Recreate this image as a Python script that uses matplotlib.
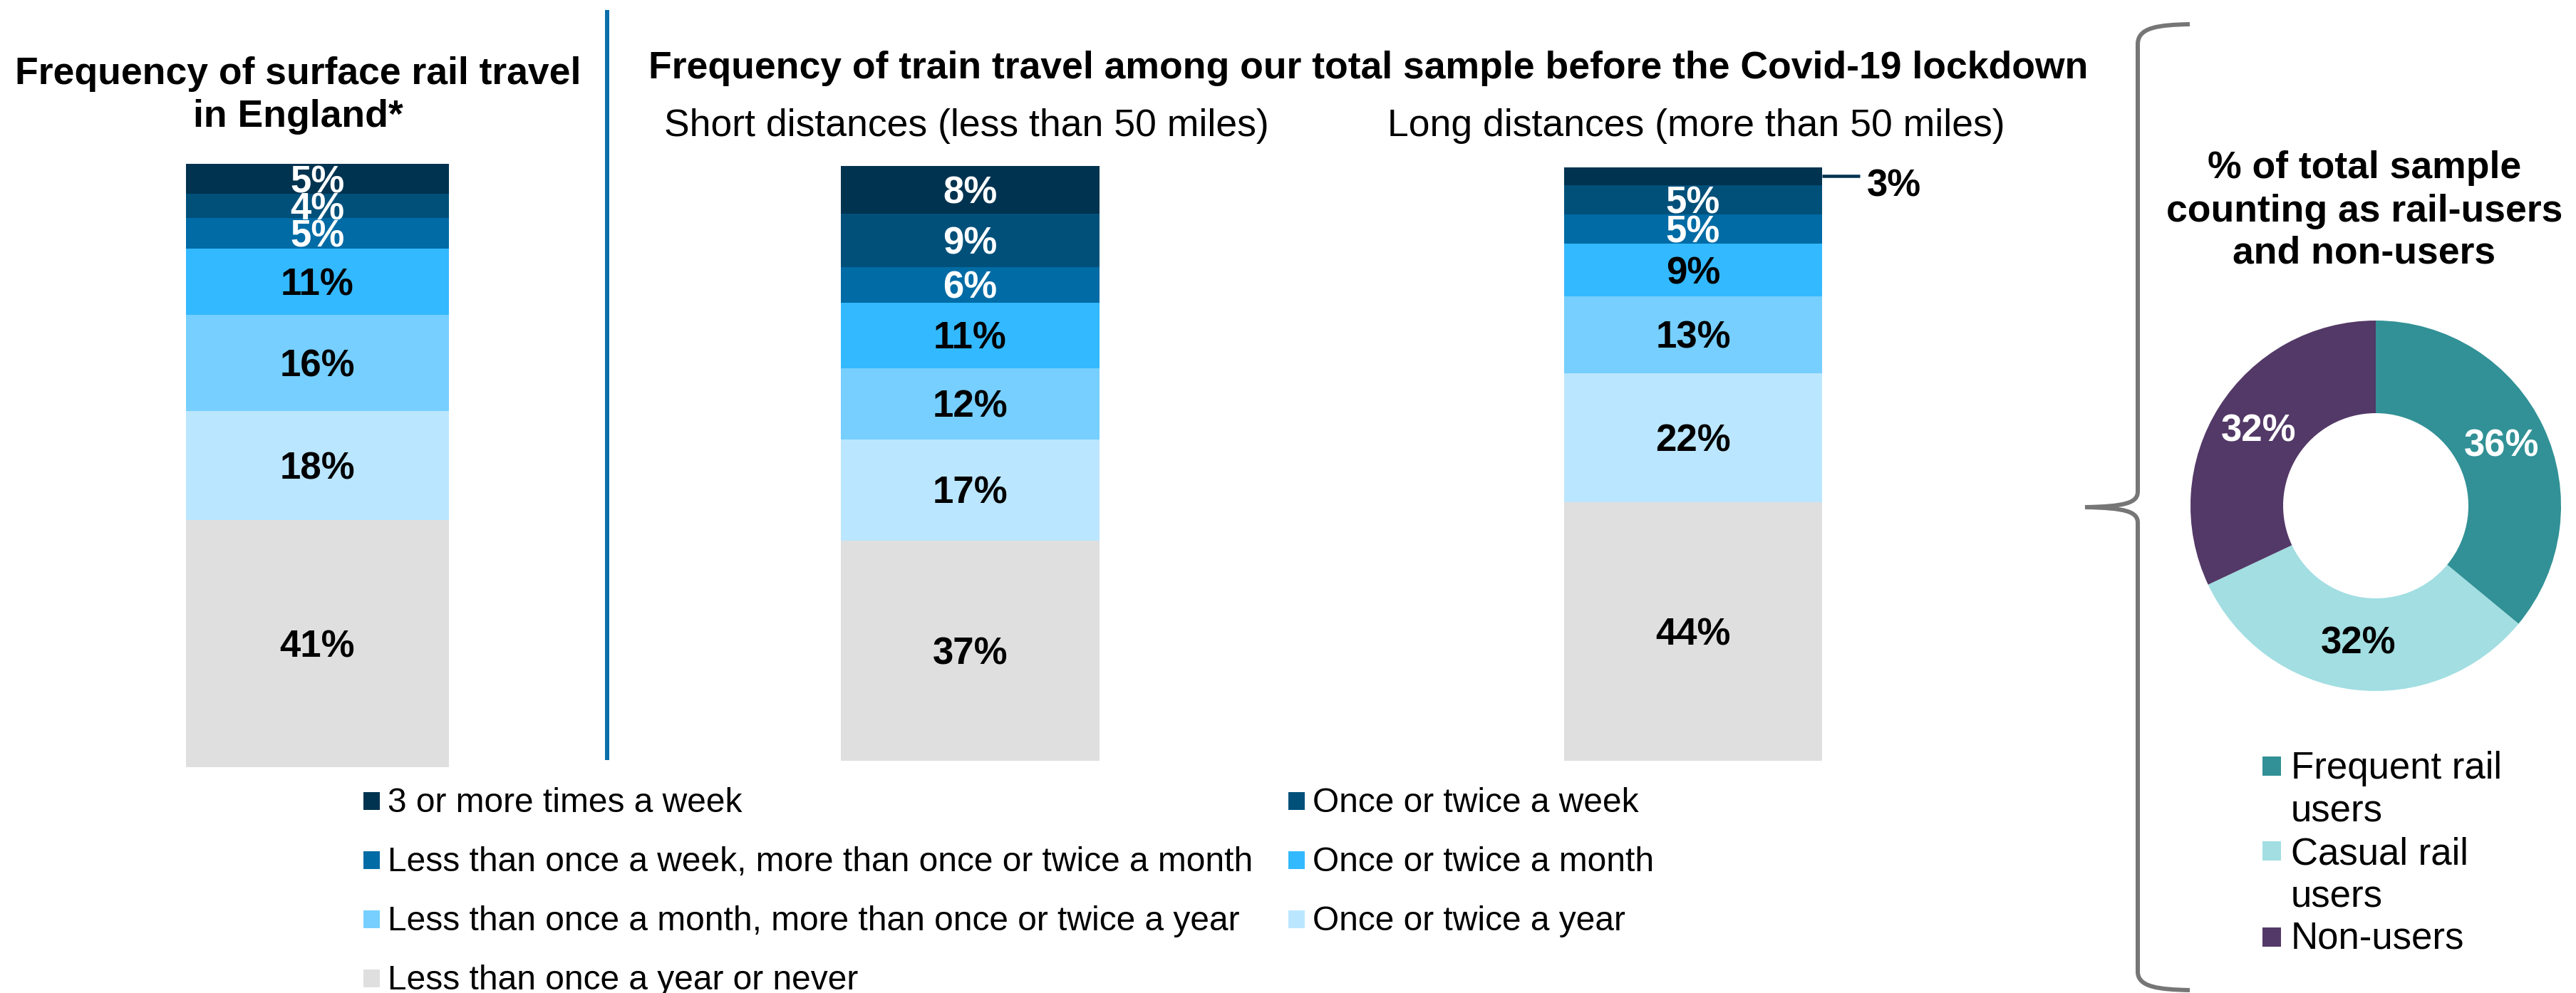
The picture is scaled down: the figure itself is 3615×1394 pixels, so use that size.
import matplotlib
matplotlib.use("Agg")
import matplotlib.pyplot as plt
from matplotlib.patches import Rectangle, PathPatch
from matplotlib.path import Path
from matplotlib.transforms import offset_copy

plt.rcParams['font.family'] = ['Liberation Sans', 'DejaVu Sans']

W, H = 3616, 1394
DPI = 100

# ---------------------------------------------------------------- data
categories = [
    "3 or more times a week",
    "Once or twice a week",
    "Less than once a week, more than once or twice a month",
    "Once or twice a month",
    "Less than once a month, more than once or twice a year",
    "Once or twice a year",
    "Less than once a year or never",
]
# shares per frequency band, listed from most to least frequent
england = [5, 4, 5, 11, 16, 18, 41]
short_trips = [8, 9, 6, 11, 12, 17, 37]
long_trips = [3, 5, 5, 9, 13, 22, 44]

user_groups = ["Frequent rail\nusers", "Casual rail\nusers", "Non-users"]
user_shares = [36, 32, 32]

left_title = ["Frequency of surface rail travel", "in England*"]
main_title = "Frequency of train travel among our total sample before the Covid-19 lockdown"
sub_titles = ["Short distances (less than 50 miles)", "Long distances (more than 50 miles)"]
donut_title = ["% of total sample", "counting as rail-users", "and non-users"]

# ---------------------------------------------------------------- style
seg_colors = ["#003350", "#00507A", "#006BA5", "#33B9FF", "#76CFFF", "#BBE6FF", "#DFDFDF"]
seg_text = ["white", "white", "white", "black", "black", "black", "black"]
donut_colors = ["#319196", "#A2DEE2", "#533967"]
donut_text = ["white", "black", "white"]
brace_grey = "#767676"
rule_blue = "#0A6EAA"

TITLE_FS = 38.5
LABEL_FS = 38
LEGEND_FS = 34.5
DONUT_LEG_FS = 38


def pt(px):
    return px * 72 / DPI


fig = plt.figure(figsize=(W / DPI, H / DPI), dpi=DPI)

# overlay in pixel units (y pointing down) for titles, legend and decorations
ov = fig.add_axes([0, 0, 1, 1])
ov.set_xlim(0, W)
ov.set_ylim(H, 0)
ov.axis('off')


def px_axes(left, top, width, height):
    return fig.add_axes([left / W, 1 - (top + height) / H, width / W, height / H])


# ---------------------------------------------------------------- titles
for txt, base in zip(left_title, [118, 178]):
    ov.text(418, base, txt, ha='center', va='baseline', fontsize=TITLE_FS, fontweight='bold')
ov.text(1920, 110, main_title, ha='center', va='baseline', fontsize=TITLE_FS, fontweight='bold')
for txt, cx in zip(sub_titles, [1356, 2380]):
    ov.text(cx, 191, txt, ha='center', va='baseline', fontsize=TITLE_FS)

# divider between the England panel and the survey panel
ov.plot([852, 852], [14, 1067], color=rule_blue, lw=pt(6), solid_capstyle='butt')

# ---------------------------------------------------------------- stacked bars
bar_boxes = [  # left, right, top, bottom in pixels
    (261, 630, 230, 1077),
    (1180, 1543, 233, 1068),
    (2195, 2557, 235, 1068),
]
cap_half = 0.716 * LABEL_FS / 72 * DPI / 2

for vals, (l, r, t, b) in zip([england, short_trips, long_trips], bar_boxes):
    ax = px_axes(l, t, r - l, b - t)
    total = sum(vals)
    ax.set_xlim(-0.5, 0.5)
    ax.set_ylim(0, total)
    ax.axis('off')
    lab_tr = offset_copy(ax.transData, fig=fig, y=-cap_half, units='dots')
    out_tr = offset_copy(ax.transData, fig=fig, y=-cap_half - 9, units='dots')
    top = total
    for v, col, tcol in zip(vals, seg_colors, seg_text):
        bottom = top - v
        ax.bar(0, v, width=1.0, bottom=bottom, color=col, linewidth=0)
        mid = bottom + v / 2
        if v > 3:
            ax.text(0, mid, f"{v}%", transform=lab_tr, ha='center', va='baseline',
                    color=tcol, fontsize=LABEL_FS, fontweight='bold')
        else:
            # thin segment: label sits outside with a short leader
            lead = 53 / (r - l)
            ax.plot([0.5, 0.5 + lead], [mid, mid], color=col, lw=pt(4.5),
                    clip_on=False, solid_capstyle='butt')
            ax.text(0.5 + 63 / (r - l), mid, f"{v}%", transform=out_tr, ha='left',
                    va='baseline', color='black', fontsize=LABEL_FS, fontweight='bold',
                    clip_on=False)
        top = bottom

# ---------------------------------------------------------------- bar legend
leg_rows = [1124, 1207, 1290, 1373]
leg_cols = [(510, 544), (1808, 1842)]
for i, (cat, col) in enumerate(zip(categories, seg_colors)):
    row, c = divmod(i, 2)
    mx, tx = leg_cols[c]
    cy = leg_rows[row]
    ov.add_patch(Rectangle((mx, cy - 12.5), 23, 25, color=col, lw=0))
    ov.text(tx, cy + 16, cat, ha='left', va='baseline', fontsize=LEGEND_FS)

# ---------------------------------------------------------------- brace
brace = Path(
    [(3073, 34), (3030, 35), (3000, 38), (3000, 62),
     (3000, 690),
     (3000, 706), (2982, 711), (2926, 712),
     (2982, 713), (3000, 718), (3000, 734),
     (3000, 1364),
     (3000, 1386), (3030, 1389), (3073, 1390)],
    [Path.MOVETO, Path.CURVE4, Path.CURVE4, Path.CURVE4,
     Path.LINETO,
     Path.CURVE4, Path.CURVE4, Path.CURVE4,
     Path.CURVE4, Path.CURVE4, Path.CURVE4,
     Path.LINETO,
     Path.CURVE4, Path.CURVE4, Path.CURVE4])
ov.add_patch(PathPatch(brace, fill=False, ec=brace_grey, lw=pt(6), capstyle='butt'))

# ---------------------------------------------------------------- donut
for txt, base in zip(donut_title, [250, 311, 370]):
    ov.text(3318, base, txt, ha='center', va='baseline', fontsize=TITLE_FS, fontweight='bold')

R = 260
dax = px_axes(3334 - R, 710 - R, 2 * R, 2 * R)
wedges, _, pct_texts = dax.pie(
    user_shares, colors=donut_colors, startangle=90, counterclock=False, radius=1.0,
    wedgeprops=dict(width=0.5, linewidth=0), autopct=lambda p: f"{p:.0f}%",
    pctdistance=0.75, textprops=dict(fontsize=LABEL_FS, fontweight='bold'))
for t, c in zip(pct_texts, donut_text):
    t.set_color(c)
dax.set_xlim(-1, 1)
dax.set_ylim(-1, 1)

# donut legend
marker_tops = [1062, 1181, 1302]
text_bases = [[1093, 1153], [1213, 1274], [1332]]
for grp, col, mt, bases in zip(user_groups, donut_colors, marker_tops, text_bases):
    ov.add_patch(Rectangle((3175, mt), 26, 27, color=col, lw=0))
    for line, base in zip(grp.split("\n"), bases):
        ov.text(3215, base, line, ha='left', va='baseline', fontsize=DONUT_LEG_FS)

fig.savefig("out.png", dpi=DPI)
